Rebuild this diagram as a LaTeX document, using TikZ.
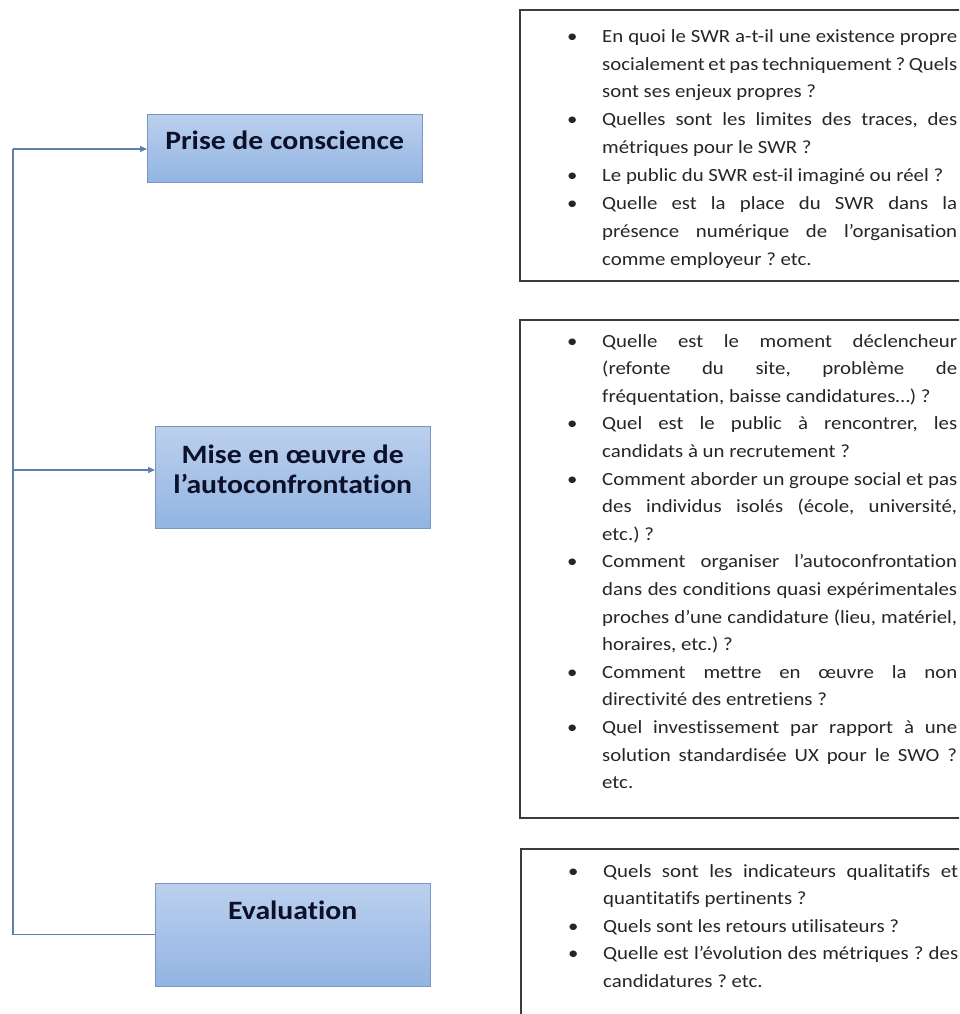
\documentclass[tikz,border=0pt]{standalone}
\usepackage{fontspec}
\setmainfont{Carlito}[FakeStretch=1.12, Ligatures=NoCommon]
\usepackage{tikz}
\usetikzlibrary{arrows.meta}
\usetikzlibrary{positioning}
\definecolor{phasetop}{RGB}{188,208,238}
\definecolor{phasebottom}{RGB}{146,180,226}
\definecolor{phaseborder}{RGB}{122,150,192}
\definecolor{linkcolor}{RGB}{96,126,172}
\definecolor{boxborder}{RGB}{60,60,60}
\definecolor{labeltext}{RGB}{12,16,40}
\tikzstyle{phase} = [draw=phaseborder, top color=phasetop, bottom color=phasebottom, minimum width=275pt, anchor=north west, inner sep=0]
\tikzstyle{phaselabel} = [font=\fontsize{26.5}{30}\selectfont\bfseries, text=labeltext, align=center, inner sep=0]
\tikzstyle{questions} = [font=\fontsize{18.6}{27.6}\selectfont, text=black!85, text width=390pt, align=justify, anchor=north west, inner sep=0]
\tikzstyle{frame} = [draw=boxborder, line width=1.3pt]
\tikzstyle{link} = [draw=linkcolor, line width=1.1pt]
\tolerance=10000
\hyphenpenalty=10000
\exhyphenpenalty=10000
\frenchspacing
\newcommand{\qitem}[1]{\noindent\hangindent=35pt\hangafter=1\makebox[35pt][l]{\textbullet}#1\par}

\begin{document}
\begin{tikzpicture}[x=1pt, y=-1pt]
            \useasboundingbox (0,0) rectangle (959,1014);
            \clip (0,0) rectangle (959,1014);

            % Nodes
            \node[phase, minimum height=68pt] (prise) at (147,114) {};
            \node[phaselabel, below=17pt of prise.north] (prisetext) {Prise de conscience};
            \node[phase, minimum height=102pt] (mise) at (155,426) {};
            \node[phaselabel, below=19pt of mise.north] (misetext) {Mise en œuvre de\\l’autoconfrontation};
            \node[phase, minimum height=103pt] (eval) at (155,883) {};
            \node[phaselabel, below=18pt of eval.north] (evaltext) {Evaluation};

            % Question boxes
            \draw[frame] (520,10) rectangle (1000,281);
            \node[questions, font=\fontsize{18.6}{27.9}\selectfont] (qprise) at (567,29) {%
                \qitem{En quoi le SWR a-t-il une existence propre\linebreak socialement et pas techniquement~? Quels\linebreak sont ses enjeux propres~?}
                \qitem{Quelles sont les limites des traces, des\linebreak métriques pour le SWR~?}
                \qitem{Le public du SWR est-il imaginé ou réel~?}
                \qitem{Quelle est la place du SWR dans la\linebreak présence numérique de l’organisation\linebreak comme employeur~? etc.}};

            \draw[frame] (520,320) rectangle (1000,818);
            \node[questions] (qmise) at (567,334) {%
                \qitem{Quelle est le moment déclencheur\linebreak (refonte du site, problème de\linebreak fréquentation, baisse candidatures…)~?}
                \qitem{Quel est le public à rencontrer, les\linebreak candidats à un recrutement~?}
                \qitem{Comment aborder un groupe social et pas\linebreak des individus isolés (école, université,\linebreak etc.)~?}
                \qitem{Comment organiser l’autoconfrontation\linebreak dans des conditions quasi expérimentales\linebreak proches d’une candidature (lieu, matériel,\linebreak horaires, etc.)~?}
                \qitem{Comment mettre en œuvre la non\linebreak directivité des entretiens~?}
                \qitem{Quel investissement par rapport à une\linebreak solution standardisée UX pour le SWO~?\linebreak etc.}};

            \draw[frame] (521,849) rectangle (1000,1100);
            \node[questions] (qeval) at (568,864) {%
                \qitem{Quels sont les indicateurs qualitatifs et\linebreak quantitatifs pertinents~?}
                \qitem{Quels sont les retours utilisateurs~?}
                \qitem{Quelle est l’évolution des métriques~? des\linebreak candidatures~? etc.}};

            % Connecting lines
            \coordinate (spinetop) at (13,149);
            \coordinate (spinemid) at (13,470);
            \draw[link, -{Triangle[length=7pt, width=6pt]}] (spinetop) -- (spinetop -| prise.west);
            \draw[link, -{Triangle[length=7pt, width=6pt]}] (spinemid) -- (spinemid -| mise.west);
            \draw[link] (spinetop) -- (spinetop |- eval.west) -- (eval.west);
        \end{tikzpicture}
\end{document}
